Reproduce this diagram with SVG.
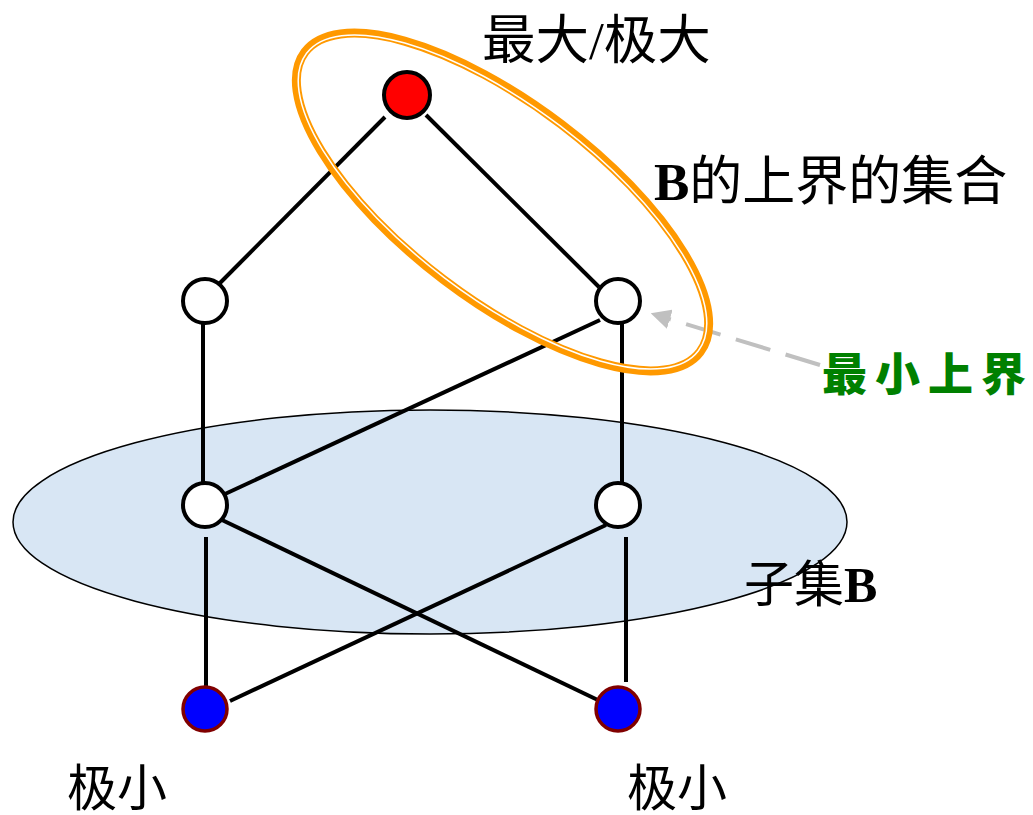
<svg xmlns="http://www.w3.org/2000/svg" width="1033" height="815" viewBox="0 0 1033 815">
<defs>
<style>
.edge{stroke:#000;stroke-width:4;fill:none;stroke-linecap:butt}
.wn{fill:#fff;stroke:#000;stroke-width:4}
.bn{fill:#0000ff;stroke:#800000;stroke-width:3.5}
.t{font-family:"Liberation Serif","Noto Sans CJK SC",serif;fill:#000}
</style>
<marker id="ah" viewBox="0 0 10 10" refX="2" refY="5" markerWidth="5" markerHeight="5" orient="auto" markerUnits="strokeWidth">
<path d="M0,0 L10,5 L0,10 z" fill="#c0c0c0"/>
</marker>
</defs>
<rect width="1033" height="815" fill="#fff"/>
<g id="subsetB">
<ellipse cx="430" cy="522" rx="417" ry="112" fill="#d8e6f4" stroke="#000" stroke-width="1.5"/>
</g>
<g id="connectors">
<line class="edge" x1="385" y1="117" x2="218" y2="285"/>
<line class="edge" x1="426" y1="115" x2="599" y2="287"/>
<line class="edge" x1="203" y1="323" x2="203" y2="483"/>
<line class="edge" x1="600" y1="320" x2="225" y2="494"/>
<line class="edge" x1="622" y1="323" x2="622" y2="483"/>
<line class="edge" x1="206" y1="537" x2="206" y2="688"/>
<line class="edge" x1="222" y1="520" x2="602" y2="702"/>
<line class="edge" x1="606" y1="525" x2="230" y2="701"/>
<line class="edge" x1="626" y1="537" x2="626" y2="682"/>
<line stroke="#c0c0c0" stroke-width="4" stroke-dasharray="36,16" x1="820" y1="365" x2="666" y2="318" marker-end="url(#ah)"/>
</g>
<g id="upperBounds">
<ellipse cx="502.5" cy="202" rx="248" ry="97.5" transform="rotate(37.2 502.5 202)" fill="none" stroke="#ff9900" stroke-width="9"/>
<ellipse cx="502.5" cy="202" rx="246" ry="95.5" transform="rotate(37.2 502.5 202)" fill="none" stroke="#fff" stroke-width="1.5"/>
</g>
<g id="n-top"><circle cx="407" cy="95" r="23" fill="#ff0000" stroke="#000" stroke-width="4"/></g>
<g id="n-midL"><circle class="wn" cx="205" cy="301" r="22"/></g>
<g id="n-midR"><circle class="wn" cx="618" cy="301" r="22"/></g>
<g id="n-lowL"><circle class="wn" cx="205" cy="505" r="22"/></g>
<g id="n-lowR"><circle class="wn" cx="618" cy="505" r="22"/></g>
<g id="n-botL"><circle class="bn" cx="205" cy="709" r="22"/></g>
<g id="n-botR"><circle class="bn" cx="618" cy="709" r="22"/></g>
<g id="labels">
<text class="t" x="482" y="59" style="font-size:53.5px">最大/极大</text>
<text class="t" x="654" y="200" style="font-size:53px"><tspan font-weight="bold">B</tspan>的上界的集合</text>
<text x="822" y="391" style="font-family:'Noto Sans CJK SC',sans-serif;font-weight:900;font-size:45px;letter-spacing:8px" fill="#008000">最小上界</text>
<text class="t" x="744" y="602" style="font-size:50px">子集<tspan font-weight="bold">B</tspan></text>
<text class="t" x="67" y="806" style="font-size:50px">极小</text>
<text class="t" x="627" y="806" style="font-size:50px">极小</text>
</g>
</svg>
